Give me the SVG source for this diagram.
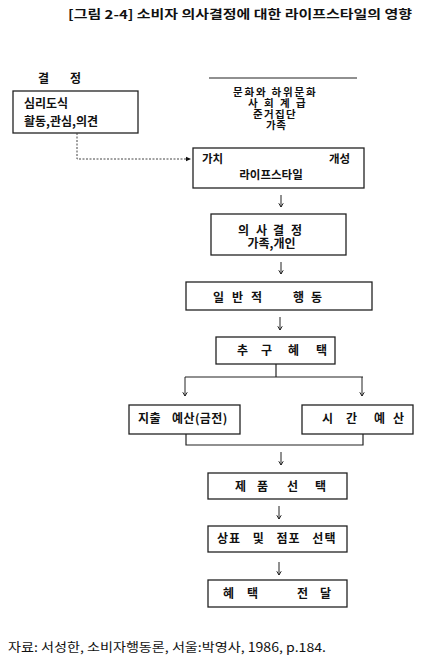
<svg xmlns="http://www.w3.org/2000/svg" width="442" height="672" viewBox="0 0 442 672">
<defs>
<marker id="ah" viewBox="0 0 8 8" refX="7" refY="4" markerWidth="6" markerHeight="6" orient="auto" markerUnits="userSpaceOnUse">
<path d="M0,1 L7,4 L0,7 Z" fill="#111"/>
</marker>
<marker id="dn" viewBox="0 0 8 8" refX="4" refY="7" markerWidth="6" markerHeight="6" orient="0" markerUnits="userSpaceOnUse">
<path d="M1,2 L4,7 L7,2" fill="none" stroke="#111" stroke-width="1.2"/>
</marker>
<style>
text{font-family:"Noto Sans CJK KR","Noto Sans",sans-serif;fill:#111;font-size:12px;font-weight:bold}
.box{fill:#fff;stroke:#222;stroke-width:1.3}
.ln{stroke:#222;stroke-width:1.2;fill:none}
.ar{stroke:#222;stroke-width:1;fill:none;marker-end:url(#dn)}
.c{text-anchor:middle}
.s{font-size:11.5px}
.cu{font-size:10.5px}
.ft{font-weight:normal;font-size:12.5px}
</style>
</defs>
<rect width="442" height="672" fill="#fff"/>
<text x="68" y="19" font-size="13" textLength="344" lengthAdjust="spacingAndGlyphs">[그림 2-4] 소비자 의사결정에 대한 라이프스타일의 영향</text>

<g id="n_decide_label"><text x="38 50 70" y="82.5">결 정</text></g>
<g id="n_psycho">
<rect class="box" x="13" y="91" width="125" height="42"/>
<text x="24" y="107.5">심리도식</text>
<text x="24" y="126">활동,관심,의견</text>
</g>
<g id="n_culture">
<line class="ln" x1="209" y1="78" x2="357" y2="78"/>
<text class="cu"><tspan x="233" y="96" letter-spacing="1.8">문화와 하위문화</tspan><tspan x="248 259 264 275 280 291 296" y="107">사 회 계 급</tspan><tspan x="253" y="118" letter-spacing="1.3">준거집단</tspan><tspan x="266" y="129" letter-spacing="0.5">가족</tspan></text>
</g>
<g id="n_lifestyle">
<rect class="box" x="193" y="148" width="171" height="40"/>
<text class="s" x="202" y="163">가치</text>
<text class="s" x="329" y="163">개성</text>
<text class="s c" x="271" y="179">라이프스타일</text>
</g>
<g id="n_decision">
<rect class="box" x="211" y="214" width="135" height="41"/>
<text x="238 250 256 268 273 285 291" y="234.5">의 사 결 정</text>
<text x="271.5" y="248" class="c">가족,개인</text>
</g>
<g id="n_behavior">
<rect class="box" x="186" y="282" width="186" height="28"/>
<text y="301.5"><tspan x="213 225 232 244 251 263">일 반 적 </tspan><tspan x="293 305 311">행 동</tspan></text>
</g>
<g id="n_benefit">
<rect class="box" x="216" y="337" width="119" height="27"/>
<text x="237 249 261 273 288 300 316" y="354.5">추 구 혜 택</text>
</g>
<g id="n_money">
<rect class="box" x="129" y="405" width="111" height="29"/>
<text x="138" y="423" word-spacing="8" letter-spacing="0.4">지출 예산(금전)</text>
</g>
<g id="n_time">
<rect class="box" x="302" y="405" width="111" height="29"/>
<text x="322 334 346 358 374 386 393" y="423">시 간 예 산</text>
</g>
<g id="n_product">
<rect class="box" x="208" y="473" width="139" height="26"/>
<text x="235 247 257 269 287 299 315" y="491">제 품 선 택</text>
</g>
<g id="n_brand">
<rect class="box" x="208" y="526" width="139" height="26"/>
<text x="217" y="543" word-spacing="8" letter-spacing="1">상표 및 점포 선택</text>
</g>
<g id="n_deliver">
<rect class="box" x="208" y="580" width="139" height="27"/>
<text x="223 235 247 259 297 309 320" y="598">혜 택 전 달</text>
</g>

<g id="connectors">
<polyline points="77,133 77,159 191,159" fill="none" stroke="#444" stroke-width="1" stroke-dasharray="2,1.5" marker-end="url(#ah)"/>
<line class="ar" x1="281" y1="195" x2="281" y2="207"/>
<line class="ar" x1="281" y1="262" x2="281" y2="274"/>
<line class="ar" x1="280" y1="317" x2="280" y2="330"/>
<polyline class="ln" points="276,364 276,377"/>
<polyline class="ln" points="185,377 363,377"/>
<line class="ar" x1="185" y1="377" x2="185" y2="396"/>
<line class="ar" x1="362" y1="377" x2="362" y2="396"/>
<polyline class="ln" points="186,434 186,445 363,445 363,434"/>
<line class="ar" x1="281" y1="452" x2="281" y2="465"/>
<line class="ar" x1="279" y1="506" x2="279" y2="519"/>
<line class="ar" x1="279" y1="562" x2="279" y2="575"/>
</g>

<text x="8" y="652" class="ft" textLength="318" lengthAdjust="spacingAndGlyphs">자료: 서성한, 소비자행동론, 서울:박영사, 1986, p.184.</text>
</svg>
